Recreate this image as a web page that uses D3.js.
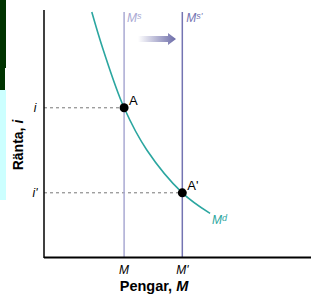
<!DOCTYPE html>
<html><head><meta charset="utf-8">
<script src="https://cdn.jsdelivr.net/npm/d3@7"></script>
<style>html,body{margin:0;padding:0;background:#fff;}svg{display:block;font-family:"Liberation Sans",Arial,sans-serif;}</style>
</head><body>
<script>
// Data (abstract units: money 0..100, interest 0..100)
const demandCurve = [[17.9,100],[22.2,84.5],[30,60.9],[38.5,43.7],[51.8,26.2],[62.2,17.8]];
const supplyValues = [30, 51.8];
const supplyLabels = ["M", "M'"];
const rateValues = [60.9, 26.2];
const rateLabels = ["i", "i'"];
const pointLabels = ["A", "A'"];

const W = 311, H = 299;
const svg = d3.select("body").append("svg").attr("width", W).attr("height", H);
const x = d3.scaleLinear().domain([0,100]).range([44,311]);
const y = d3.scaleLinear().domain([0,100]).range([257,12]);

// left decorative blocks
svg.append("rect").attr("x",0).attr("y",0).attr("width",6).attr("height",68).attr("fill","#003300");
svg.append("rect").attr("x",0).attr("y",68).attr("width",5).attr("height",22).attr("fill","#003300");
svg.append("rect").attr("x",0).attr("y",90).attr("width",6).attr("height",110).attr("fill","#ccffff");

const defs = svg.append("defs");
const g = defs.append("linearGradient").attr("id","arr");
g.append("stop").attr("offset","0%").attr("stop-color","#ffffff");
g.append("stop").attr("offset","100%").attr("stop-color","#6b6ba8");

// dashed lines
supplyValues.forEach((s,i)=>{
  svg.append("line").attr("x1",x(0)).attr("x2",x(s)).attr("y1",y(rateValues[i])).attr("y2",y(rateValues[i]))
    .attr("stroke","#777").attr("stroke-width",1).attr("stroke-dasharray","3,3");
});

// supply lines
const supplyColors = ["#a9a9d3","#7474b2"];
supplyValues.forEach((s,i)=>{
  svg.append("line").attr("x1",x(s)).attr("x2",x(s)).attr("y1",y(100)).attr("y2",y(0))
    .attr("stroke",supplyColors[i]).attr("stroke-width",1.5);
});
// supply labels
svg.append("text").attr("x",x(supplyValues[0])+3).attr("y",y(100)+10).attr("fill","#a9a9d3")
  .attr("font-style","italic").attr("font-size",12).html("M<tspan font-size='9' dy='-3'>s</tspan>");
svg.append("text").attr("x",x(supplyValues[1])+4).attr("y",y(100)+10).attr("fill","#7474b2")
  .attr("font-style","italic").attr("font-size",12).html("M<tspan font-size='9' dy='-3'>s'</tspan>");

// arrow
svg.append("path").attr("d",`M138,36 L168,36 L168,33 L176,39 L168,45 L168,42 L138,42 Z`).attr("fill","url(#arr)");

// demand curve
svg.append("path").datum(demandCurve)
  .attr("d", d3.line().x(d=>x(d[0])).y(d=>y(d[1])).curve(d3.curveCatmullRom.alpha(0.5)))
  .attr("fill","none").attr("stroke","#2ba6a0").attr("stroke-width",1.6);
svg.append("text").attr("x",x(62.2)+2).attr("y",y(17.8)+11).attr("fill","#2ba6a0")
  .attr("font-style","italic").attr("font-size",12).html("M<tspan font-size='9' dy='-3'>d</tspan>");

// axes
svg.append("line").attr("x1",x(0)).attr("x2",x(100)).attr("y1",y(0)+0.5).attr("y2",y(0)+0.5).attr("stroke","#000").attr("stroke-width",2.2);
svg.append("line").attr("x1",x(0)).attr("x2",x(0)).attr("y1",y(100)-2).attr("y2",y(0)+1).attr("stroke","#000").attr("stroke-width",1.5);

// points
supplyValues.forEach((s,i)=>{
  svg.append("circle").attr("cx",x(s)).attr("cy",y(rateValues[i])).attr("r",4.5).attr("fill","#000");
  svg.append("text").attr("x",x(s)+5).attr("y",y(rateValues[i])-3).attr("font-size",13).text(pointLabels[i]);
});

// tick labels
supplyValues.forEach((s,i)=>{
  svg.append("text").attr("x",x(s)).attr("y",274).attr("text-anchor","middle").attr("font-style","italic").attr("font-size",12).text(supplyLabels[i]);
});
rateValues.forEach((r,i)=>{
  svg.append("text").attr("x",35).attr("y",y(r)+4).attr("text-anchor","middle").attr("font-style","italic").attr("font-size",12).text(rateLabels[i]);
});

// titles
svg.append("text").attr("x",154).attr("y",291).attr("text-anchor","middle").attr("font-weight","bold").attr("font-size",14.5)
  .html("Pengar, <tspan font-style='italic'>M</tspan>");
svg.append("text").attr("transform","translate(23,145) rotate(-90)").attr("text-anchor","middle").attr("font-weight","bold").attr("font-size",14)
  .html("Ränta, <tspan font-style='italic'>i</tspan>");
</script>
</body></html>
